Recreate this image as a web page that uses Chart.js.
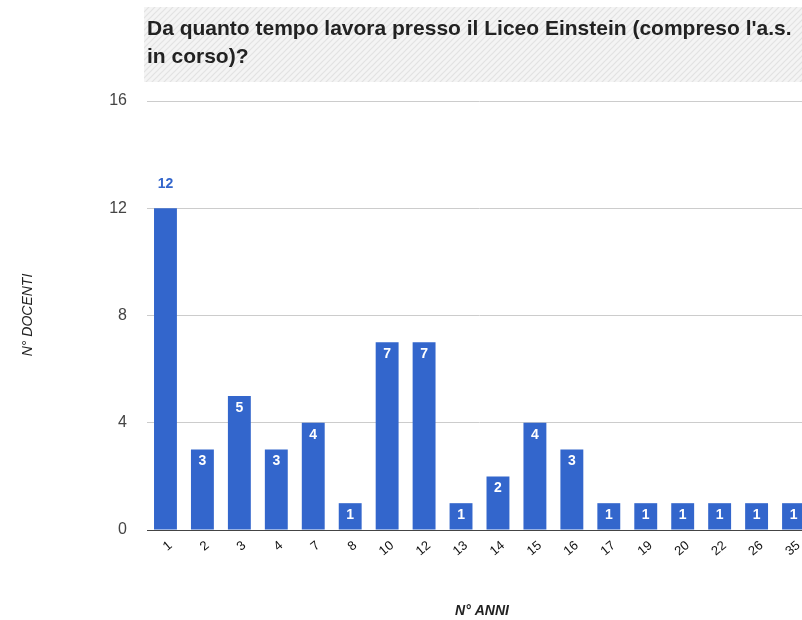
<!DOCTYPE html>
<html>
<head>
<meta charset="utf-8">
<script src="https://cdn.jsdelivr.net/npm/chart.js@4/dist/chart.umd.min.js"></script>
<style>
html,body{margin:0;padding:0;background:#fff;overflow:hidden;}
#wrap{position:relative;width:815px;height:620px;}
</style>
</head>
<body>
<div id="wrap"><canvas id="c" width="815" height="620"></canvas></div>
<script>
const titleLines = ["Da quanto tempo lavora presso il Liceo Einstein (compreso l'a.s.", "in corso)?"];
const categories = ["1","2","3","4","7","8","10","12","13","14","15","16","17","19","20","22","26","35"];
const docenti = [12,3,5,3,4,1,7,7,1,2,4,3,1,1,1,1,1,1];
const yTicks = [0,4,8,12,16];
const yTitle = "N° DOCENTI";
const xTitle = "N° ANNI";
const barColor = "#3366cc";

function hatch(ctx){
  const p = document.createElement('canvas');
  p.width = 6; p.height = 6;
  const g = p.getContext('2d');
  g.fillStyle = '#f4f4f4'; g.fillRect(0,0,6,6);
  g.strokeStyle = '#e2e2e2'; g.lineWidth = 1.2;
  g.beginPath();
  g.moveTo(-1,7); g.lineTo(7,-1);
  g.moveTo(-4,4); g.lineTo(4,-4);
  g.moveTo(2,10); g.lineTo(10,2);
  g.stroke();
  return ctx.createPattern(p,'repeat');
}

const decor = {
  id:'decor',
  beforeDraw(chart){
    const ctx = chart.ctx;
    ctx.save();
    ctx.fillStyle = hatch(ctx);
    ctx.fillRect(144,7,680,75);
    ctx.fillStyle = '#222';
    ctx.font = 'bold 21px "Liberation Sans", Arial, sans-serif';
    ctx.textBaseline = 'middle';
    ctx.textAlign = 'left';
    ctx.fillText(titleLines[0],147,29);
    ctx.fillText(titleLines[1],147,57);
    // axis titles
    ctx.font = 'italic 14px "Liberation Sans", Arial, sans-serif';
    ctx.textAlign = 'center';
    ctx.translate(28,315);
    ctx.rotate(-Math.PI/2);
    ctx.fillText(yTitle,0,0);
    ctx.restore();
    ctx.save();
    ctx.fillStyle = '#222';
    ctx.font = 'italic bold 14px "Liberation Sans", Arial, sans-serif';
    ctx.textAlign = 'center';
    ctx.textBaseline = 'middle';
    ctx.fillText(xTitle,482,611);
    ctx.restore();
  },
  afterDatasetsDraw(chart){
    const ctx = chart.ctx;
    const meta = chart.getDatasetMeta(0);
    const data = chart.data.datasets[0].data;
    const maxV = Math.max(...data);
    ctx.save();
    ctx.font = 'bold 14px "Liberation Sans", Arial, sans-serif';
    ctx.textAlign = 'center';
    ctx.textBaseline = 'middle';
    meta.data.forEach((bar,i)=>{
      const v = data[i];
      if (v === maxV){
        ctx.fillStyle = barColor;
        ctx.fillText(String(v), bar.x, bar.y - 24);
      } else {
        ctx.fillStyle = '#fff';
        ctx.fillText(String(v), bar.x, bar.y + 12);
      }
    });
    ctx.restore();
  }
};

new Chart(document.getElementById('c'),{
  type:'bar',
  data:{
    labels:categories,
    datasets:[{data:docenti,backgroundColor:barColor,borderWidth:0,barPercentage:0.62,categoryPercentage:1}]
  },
  options:{
    responsive:false,
    animation:false,
    layout:{padding:{top:101,right:3,bottom:0,left:0}},
    plugins:{legend:{display:false},tooltip:{enabled:false},title:{display:false}},
    scales:{
      x:{
        grid:{display:false,drawTicks:false},
        border:{display:true,color:'#444',width:1},
        ticks:{color:'#111',font:{size:13,family:'"Liberation Sans", Arial, sans-serif'},minRotation:40,maxRotation:40,padding:8,labelOffset:5,autoSkip:false},
        afterFit(s){s.height=90;}
      },
      y:{
        min:0,max:16,
        afterBuildTicks(s){s.ticks = yTicks.map(v=>({value:v}));},
        grid:{color:'#cccccc',drawTicks:false},
        border:{display:false},
        ticks:{color:'#444',font:{size:16,family:'"Liberation Sans", Arial, sans-serif'},padding:20},
        afterFit(s){s.width=147;}
      }
    }
  },
  plugins:[decor]
});
</script>
</body>
</html>
